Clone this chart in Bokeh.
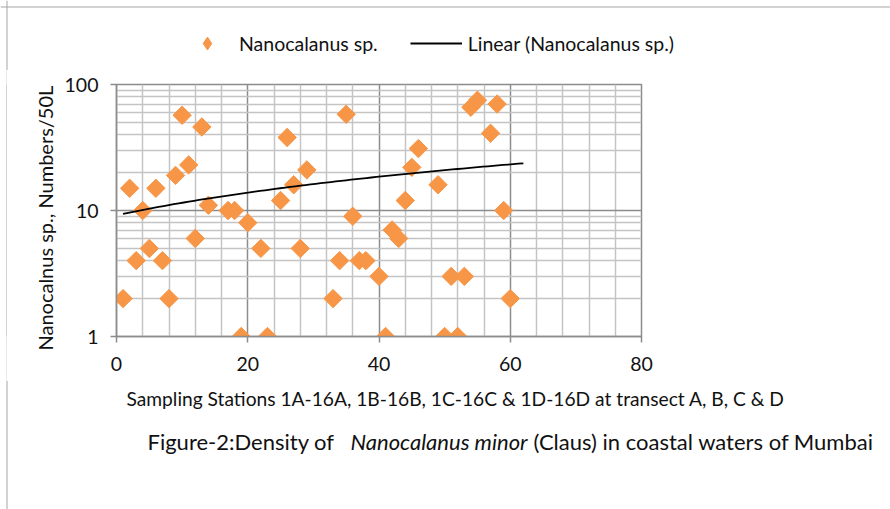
import numpy as np
from bokeh.plotting import figure
from bokeh.layouts import column, row
from bokeh.models import (Range1d, FixedTicker, PrintfTickFormatter, Legend, LegendItem,
                          Label, Span, ColumnDataSource, Title, Spacer)
from bokeh.embed import file_html
from bokeh.resources import INLINE

# ---------------- data ----------------
stations = [1, 2, 3, 4, 5, 6, 7, 8, 9, 10, 11, 12, 13, 14, 17, 18, 19, 20, 22, 23,
            25, 26, 27, 28, 29, 33, 34, 35, 36, 37, 38, 40, 41, 42, 43, 44, 45, 46,
            49, 50, 51, 52, 53, 54, 55, 57, 58, 59, 60]
density = [2, 15, 4, 10, 5, 15, 4, 2, 19, 57, 23, 6, 46, 11, 10, 10, 1, 8, 5, 1,
           12, 38, 16, 5, 21, 2, 4, 58, 9, 4, 4, 3, 1, 7, 6, 12, 22, 31,
           16, 1, 3, 1, 3, 66, 75, 41, 70, 10, 2]
# linear trendline (Excel "Linear"): y = a + b*x
trend_x_range = [1, 62]
trend_intercept = 9.17
trend_slope = 0.2344

x_ticks = [0, 20, 40, 60, 80]
y_ticks = [1, 10, 100]

series_name = "Nanocalanus sp."
trend_name = "Linear (Nanocalanus sp.)"
x_title = "Sampling Stations 1A-16A, 1B-16B, 1C-16C  & 1D-16D at transect A, B, C & D"
y_title = "Nanocalnus sp., Numbers/50L"
caption_parts = ["Figure-2:Density of", "Nanocalanus minor", "(Claus) in coastal waters of Mumbai"]

# ---------------- layout constants (canvas px) ----------------
W, H = 890, 509
FL, FR, FT, FB = 116, 641, 84, 336   # plot-area edges
TOP_H = 70           # legend strip height
MID_H = 380 - TOP_H  # main plot height
BOT_H = H - 380      # caption strip height
BX = 6               # outer chart border position
FONT = "Lato"
ORANGE = "#f79646"
MAJ = "#8c8c8c"
MIN = "#c4c4c4"
TXT = "#111111"
BORDER = "#a6a6a6"


def strip(w, h, y0):
    """A blank figure whose data coordinates equal canvas pixels."""
    f = figure(width=w, height=h, output_backend="svg", toolbar_location=None,
               x_range=Range1d(0, w), y_range=Range1d(y0 + h, y0),
               x_axis_location=None, y_axis_location=None, min_border=0, title=None)
    f.grid.visible = False
    f.outline_line_color = None
    f.background_fill_color = "white"
    f.border_fill_color = "white"
    f.add_layout(Span(location=BX + 0.5, dimension="height", line_color=BORDER, line_width=1))
    return f


# ---------------- main plot ----------------
MAIN_W = W - BX - 1
p = figure(width=MAIN_W, height=MID_H, output_backend="svg", toolbar_location=None,
           x_range=Range1d(0, 80), y_range=Range1d(1, 100), y_axis_type="log",
           min_border_left=FL - BX - 1, min_border_right=W - FR, min_border_top=FT - TOP_H,
           min_border_bottom=TOP_H + MID_H - FB, title=None)
p.background_fill_color = "white"
p.border_fill_color = "white"
p.outline_line_color = MAJ
p.outline_line_width = 1.5

x_minor = [v for v in range(0, 81, 4) if v % 20]
y_minor = [m * 10 ** e for e in (0, 1) for m in range(2, 10)]
p.xaxis.ticker = FixedTicker(ticks=x_ticks, minor_ticks=x_minor)
p.yaxis.ticker = FixedTicker(ticks=y_ticks, minor_ticks=y_minor)
p.yaxis.formatter = PrintfTickFormatter(format="%d")

for ax in (p.xaxis[0], p.yaxis[0]):
    ax.axis_line_color = MAJ
    ax.axis_line_width = 1.5
    ax.major_tick_line_color = MAJ
    ax.major_tick_line_width = 1.5
    ax.major_tick_out = 6
    ax.major_tick_in = 0
    ax.minor_tick_line_color = None
    ax.major_label_text_font = FONT
    ax.major_label_text_font_size = "19.5px"
    ax.major_label_text_color = TXT
p.xaxis.major_label_standoff = 14
p.yaxis.major_label_standoff = 12

for g in (p.xgrid[0], p.ygrid[0]):
    g.grid_line_color = MAJ
    g.grid_line_width = 1.5
    g.minor_grid_line_color = MIN
    g.minor_grid_line_width = 1.5

src = ColumnDataSource(dict(x=stations, y=density))
p.scatter("x", "y", source=src, marker="square", size=13, angle=np.pi / 4,
          fill_color=ORANGE, line_color=ORANGE)

tx = np.linspace(trend_x_range[0], trend_x_range[1], 80)
ty = trend_intercept + trend_slope * tx
p.line(tx, ty, line_color="black", line_width=1.8)

# y-axis title as a side-panel title so it is not clipped
p.add_layout(Title(text=y_title, align="left", offset=-14, vertical_align="bottom",
                   standoff=10, text_font=FONT, text_font_size="20px",
                   text_font_style="normal", text_color=TXT), "left")

# ---------------- legend strip ----------------
top = strip(W, TOP_H, 0)
top.add_layout(Span(location=BX + 0.5, dimension="width", line_color=BORDER, line_width=1))
dummy = ColumnDataSource(dict(x=np.array([np.nan]), y=np.array([np.nan])))
lg_pts = top.scatter("x", "y", source=dummy, marker="diamond", size=12,
                     fill_color=ORANGE, line_color=ORANGE)
lg_line = top.line("x", "y", source=dummy, line_color="black", line_width=1.8)
GH = 32
legend = Legend(items=[LegendItem(label=series_name, renderers=[lg_pts]),
                       LegendItem(label=trend_name, renderers=[lg_line])],
                orientation="horizontal", location=(181, TOP_H - 27 - GH),
                glyph_width=52, glyph_height=GH, label_standoff=6, spacing=32,
                padding=0, margin=0, border_line_color=None, background_fill_alpha=0,
                label_text_font=FONT, label_text_font_size="19.5px", label_text_color=TXT)
top.add_layout(legend, "center")

# ---------------- left border bar beside main plot ----------------
bar = figure(width=1, height=MID_H, output_backend="svg", toolbar_location=None,
             x_axis_location=None, y_axis_location=None, min_border=0, title=None)
bar.grid.visible = False
bar.outline_line_color = None
bar.background_fill_color = BORDER
bar.border_fill_color = BORDER

# ---------------- bottom strip: x title + caption ----------------
bot = strip(W, BOT_H, 380)
bot.add_layout(Label(x=126, y=398, text=x_title, text_font=FONT, text_font_size="19.2px",
                     text_align="left", text_baseline="middle", text_color=TXT))
cap_x = [147, 350, 533]
cap_style = ["normal", "italic", "normal"]
for t, cx, st in zip(caption_parts, cap_x, cap_style):
    bot.add_layout(Label(x=cx, y=441, text=t, text_font=FONT, text_font_size="22px",
                         text_font_style=st, text_align="left", text_baseline="middle",
                         text_color=TXT))

layout = column(top, row(Spacer(width=BX, height=MID_H), bar, p, spacing=0), bot, spacing=0)
open("out.html", "w").write(file_html(layout, INLINE))
